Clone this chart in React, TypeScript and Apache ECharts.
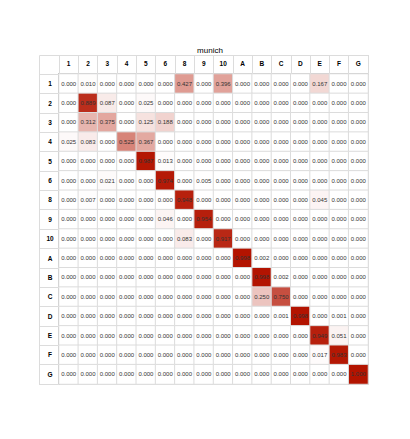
import React, { useEffect, useRef } from "react";
import * as echarts from "echarts";

const categories = ["1", "2", "3", "4", "5", "6", "8", "9", "10", "A", "B", "C", "D", "E", "F", "G"];

const row1 = [0.000, 0.010, 0.000, 0.000, 0.000, 0.000, 0.427, 0.000, 0.396, 0.000, 0.000, 0.000, 0.000, 0.167, 0.000, 0.000];
const row2 = [0.000, 0.889, 0.087, 0.000, 0.025, 0.000, 0.000, 0.000, 0.000, 0.000, 0.000, 0.000, 0.000, 0.000, 0.000, 0.000];
const row3 = [0.000, 0.312, 0.375, 0.000, 0.125, 0.188, 0.000, 0.000, 0.000, 0.000, 0.000, 0.000, 0.000, 0.000, 0.000, 0.000];
const row4 = [0.025, 0.083, 0.000, 0.525, 0.367, 0.000, 0.000, 0.000, 0.000, 0.000, 0.000, 0.000, 0.000, 0.000, 0.000, 0.000];
const row5 = [0.000, 0.000, 0.000, 0.000, 0.987, 0.013, 0.000, 0.000, 0.000, 0.000, 0.000, 0.000, 0.000, 0.000, 0.000, 0.000];
const row6 = [0.000, 0.000, 0.021, 0.000, 0.000, 0.974, 0.000, 0.005, 0.000, 0.000, 0.000, 0.000, 0.000, 0.000, 0.000, 0.000];
const row8 = [0.000, 0.007, 0.000, 0.000, 0.000, 0.000, 0.948, 0.000, 0.000, 0.000, 0.000, 0.000, 0.000, 0.045, 0.000, 0.000];
const row9 = [0.000, 0.000, 0.000, 0.000, 0.000, 0.046, 0.000, 0.954, 0.000, 0.000, 0.000, 0.000, 0.000, 0.000, 0.000, 0.000];
const row10 = [0.000, 0.000, 0.000, 0.000, 0.000, 0.000, 0.083, 0.000, 0.917, 0.000, 0.000, 0.000, 0.000, 0.000, 0.000, 0.000];
const rowA = [0.000, 0.000, 0.000, 0.000, 0.000, 0.000, 0.000, 0.000, 0.000, 0.998, 0.002, 0.000, 0.000, 0.000, 0.000, 0.000];
const rowB = [0.000, 0.000, 0.000, 0.000, 0.000, 0.000, 0.000, 0.000, 0.000, 0.000, 0.998, 0.002, 0.000, 0.000, 0.000, 0.000];
const rowC = [0.000, 0.000, 0.000, 0.000, 0.000, 0.000, 0.000, 0.000, 0.000, 0.000, 0.250, 0.750, 0.000, 0.000, 0.000, 0.000];
const rowD = [0.000, 0.000, 0.000, 0.000, 0.000, 0.000, 0.000, 0.000, 0.000, 0.000, 0.000, 0.001, 0.998, 0.000, 0.001, 0.000];
const rowE = [0.000, 0.000, 0.000, 0.000, 0.000, 0.000, 0.000, 0.000, 0.000, 0.000, 0.000, 0.000, 0.000, 0.949, 0.051, 0.000];
const rowF = [0.000, 0.000, 0.000, 0.000, 0.000, 0.000, 0.000, 0.000, 0.000, 0.000, 0.000, 0.000, 0.000, 0.017, 0.983, 0.000];
const rowG = [0.000, 0.000, 0.000, 0.000, 0.000, 0.000, 0.000, 0.000, 0.000, 0.000, 0.000, 0.000, 0.000, 0.000, 0.000, 1.000];

const matrix = [row1, row2, row3, row4, row5, row6, row8, row9, row10, rowA, rowB, rowC, rowD, rowE, rowF, rowG];

const GL = 59, GT = 74, GW = 309, GH = 310, LBL = 20, HDR = 19;
const FONT = "Liberation Sans, Arial, sans-serif";
const LINE = "#dcdcdc";

export default function App() {
  const ref = useRef<HTMLDivElement>(null);
  useEffect(() => {
    if (!ref.current) return;
    const chart = echarts.init(ref.current, null, { renderer: "svg" });
    const data: [number, number, number][] = [];
    matrix.forEach((row, y) => row.forEach((v, x) => data.push([x, y, v])));
    chart.setOption({
      animation: false,
      backgroundColor: "#ffffff",
      title: {
        text: "munich",
        left: 205,
        textAlign: "center",
        top: 41,
        textStyle: { fontFamily: FONT, fontSize: 8, fontWeight: "normal", color: "#000" },
      },
      grid: { left: GL, top: GT, width: GW, height: GH, show: false },
      xAxis: {
        type: "category",
        data: categories,
        position: "top",
        axisLine: { show: true, lineStyle: { color: "#999", width: 1.5 } },
        axisTick: { show: true, length: HDR, interval: 0, lineStyle: { color: LINE } },
        axisLabel: { interval: 0, margin: 7, fontFamily: FONT, fontSize: 6.5, fontWeight: "bold", color: "#000" },
        splitLine: { show: false },
      },
      yAxis: {
        type: "category",
        data: categories,
        inverse: true,
        axisLine: { show: true, lineStyle: { color: "#888", width: 1.5 } },
        axisTick: { show: true, length: LBL, interval: 0, lineStyle: { color: LINE } },
        axisLabel: { interval: 0, margin: 9, align: "center", fontFamily: FONT, fontSize: 6.5, fontWeight: "bold", color: "#000" },
        splitLine: { show: false },
      },
      visualMap: {
        show: false,
        type: "continuous",
        min: 0,
        max: 1,
        inRange: { color: ["#ffffff", "#b31400"] },
      },
      graphic: [
        {
          type: "rect",
          shape: { x: GL - LBL + 0.5, y: GT - HDR + 0.5, width: GW + LBL, height: GH + HDR },
          style: { fill: "none", stroke: LINE, lineWidth: 1 },
          z: 0,
        },
      ],
      series: [
        {
          type: "heatmap",
          data,
          itemStyle: { borderColor: LINE, borderWidth: 1 },
          label: {
            show: true,
            fontFamily: FONT,
            fontSize: 6,
            color: "#333",
            formatter: (p: any) => Number(p.value[2]).toFixed(3),
          },
          emphasis: { disabled: true },
        },
      ],
    });
    return () => chart.dispose();
  }, []);
  return <div ref={ref} style={{ position: "fixed", left: 0, top: 0, width: 410, height: 439 }} />;
}
